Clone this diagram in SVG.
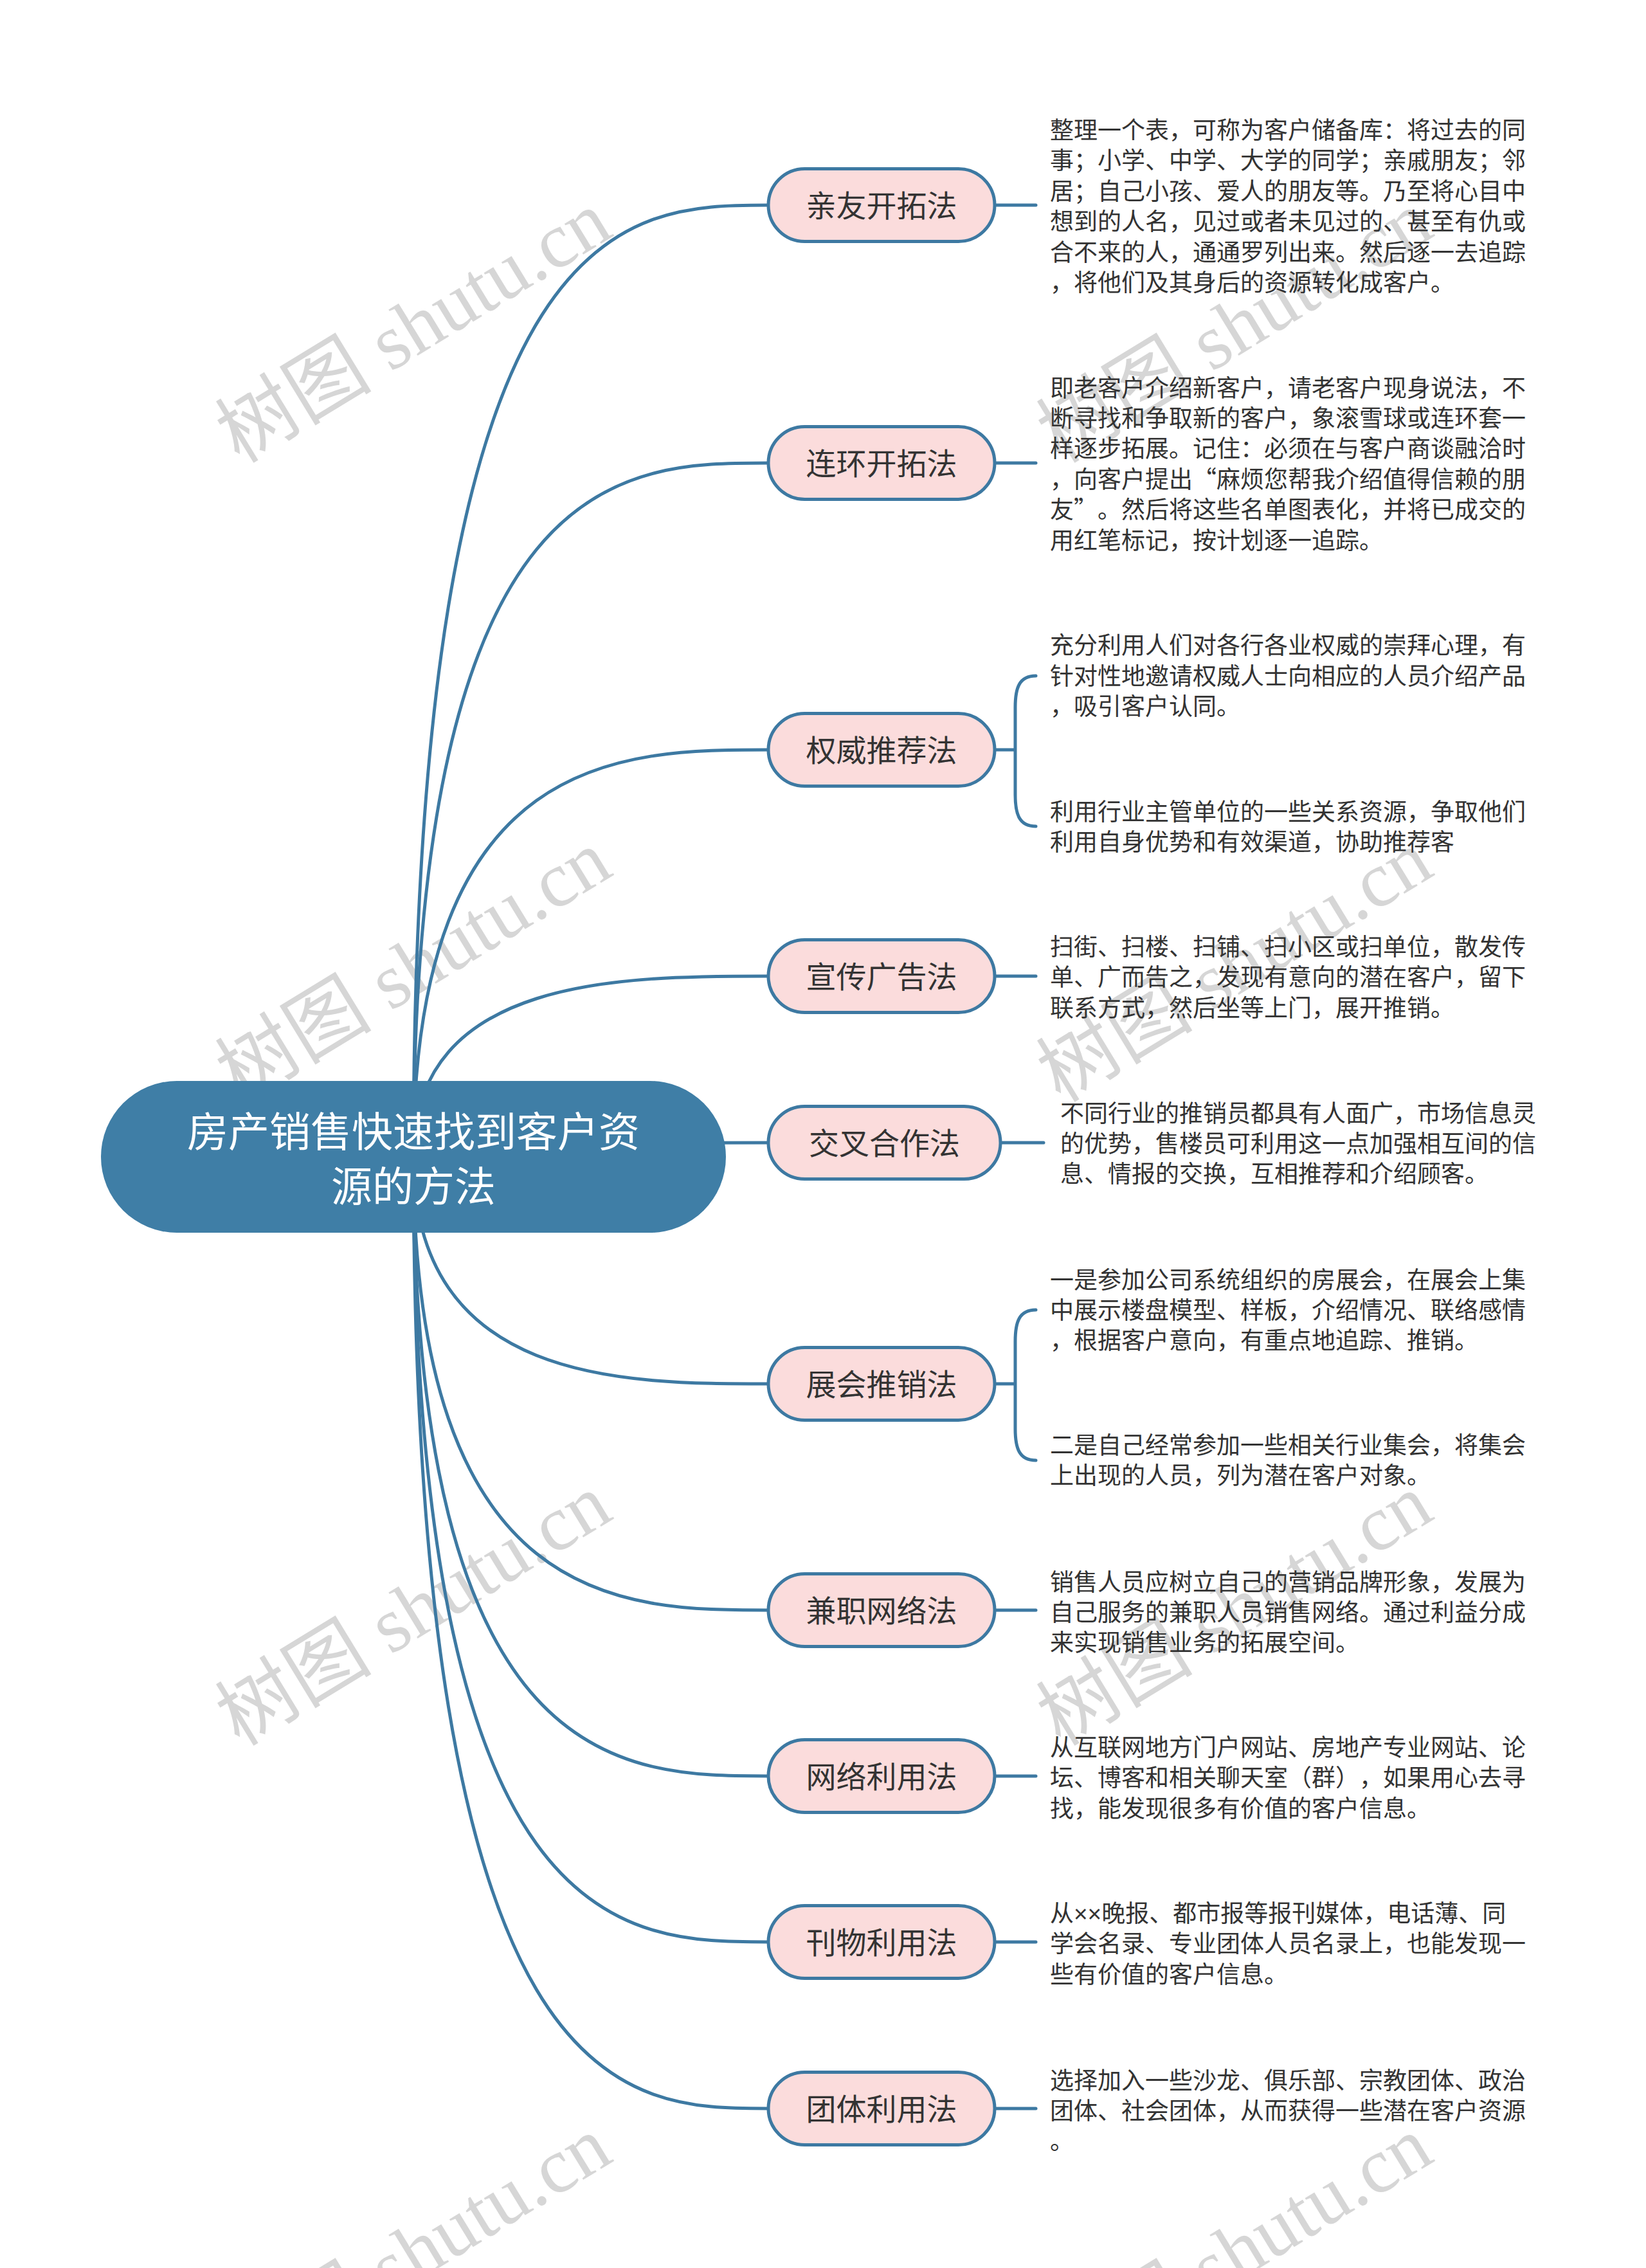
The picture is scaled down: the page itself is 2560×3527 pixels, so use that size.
<svg xmlns="http://www.w3.org/2000/svg" width="2560" height="3527" viewBox="0 0 2560 3527">
<style>
.wm{font-family:"Liberation Serif","Noto Sans CJK SC",serif;font-size:122px;fill:#d6d6d6;text-anchor:middle}
.conn{fill:none;stroke:#3d79a2;stroke-width:5;stroke-linecap:round}
.nbox{fill:#fbdcdc;stroke:#3d79a2;stroke-width:5}
.ntext{font-family:"Noto Sans CJK SC",sans-serif;font-size:47px;fill:#333333;text-anchor:middle}
.desc{font-family:"Noto Sans CJK SC",sans-serif;font-size:37px;fill:#333333;text-spacing-trim:space-all}
.root{fill:#3f7ea6}
.rtext{font-family:"Noto Sans CJK SC",sans-serif;font-size:64px;fill:#ffffff;text-anchor:middle}
.lat{font-family:"Liberation Sans",sans-serif}
</style>
<rect width="2560" height="3527" fill="#ffffff"/>
<g id="watermarks">
<text class="wm" x="646" y="549" transform="rotate(-31.4 646 513)">树图 shutu.cn</text>
<text class="wm" x="1923" y="549" transform="rotate(-31.4 1923 513)">树图 shutu.cn</text>
<text class="wm" x="646" y="1543" transform="rotate(-31.4 646 1507)">树图 shutu.cn</text>
<text class="wm" x="1923" y="1543" transform="rotate(-31.4 1923 1507)">树图 shutu.cn</text>
<text class="wm" x="646" y="2544" transform="rotate(-31.4 646 2508)">树图 shutu.cn</text>
<text class="wm" x="1923" y="2544" transform="rotate(-31.4 1923 2508)">树图 shutu.cn</text>
<text class="wm" x="646" y="3543" transform="rotate(-31.4 646 3507)">树图 shutu.cn</text>
<text class="wm" x="1923" y="3543" transform="rotate(-31.4 1923 3507)">树图 shutu.cn</text>
</g>
<g id="connectors">
<path class="conn" d="M643,1798 C643,319 969,319 1195,319"/>
<path class="conn" d="M643,1798 C643,720 969,720 1195,720"/>
<path class="conn" d="M643,1798 C643,1166 969,1166 1195,1166"/>
<path class="conn" d="M643,1798 C643,1518 969,1518 1195,1518"/>
<path class="conn" d="M643,1798 C643,1777 969,1777 1195,1777"/>
<path class="conn" d="M643,1798 C643,2152 969,2152 1195,2152"/>
<path class="conn" d="M643,1798 C643,2504 969,2504 1195,2504"/>
<path class="conn" d="M643,1798 C643,2762 969,2762 1195,2762"/>
<path class="conn" d="M643,1798 C643,3020 969,3020 1195,3020"/>
<path class="conn" d="M643,1798 C643,3279 969,3279 1195,3279"/>
<path class="conn" d="M1547,319 H1611"/>
<path class="conn" d="M1547,720 H1611"/>
<path class="conn" d="M1547,1166 H1579 M1611,1051 C1585,1051 1579,1070 1579,1100 V1236 C1579,1266 1585,1285 1611,1285"/>
<path class="conn" d="M1547,1518 H1611"/>
<path class="conn" d="M1556,1777 H1623"/>
<path class="conn" d="M1547,2152 H1579 M1611,2037 C1585,2037 1579,2056 1579,2086 V2222 C1579,2252 1585,2271 1611,2271"/>
<path class="conn" d="M1547,2504 H1611"/>
<path class="conn" d="M1547,2762 H1611"/>
<path class="conn" d="M1547,3020 H1611"/>
<path class="conn" d="M1547,3279 H1611"/>
</g>
<g id="root">
<rect class="root" x="157" y="1681" width="972" height="236" rx="118" ry="118"/>
<text class="rtext" x="643" y="1783">房产销售快速找到客户资</text>
<text class="rtext" x="643" y="1868">源的方法</text>
</g>
<g id="n1"><rect class="nbox" x="1195" y="262.5" width="352" height="113" rx="56.5"/><text class="ntext" x="1371" y="336.5">亲友开拓法</text></g>
<g id="n2"><rect class="nbox" x="1195" y="663.5" width="352" height="113" rx="56.5"/><text class="ntext" x="1371" y="737.5">连环开拓法</text></g>
<g id="n3"><rect class="nbox" x="1195" y="1109.5" width="352" height="113" rx="56.5"/><text class="ntext" x="1371" y="1183.5">权威推荐法</text></g>
<g id="n4"><rect class="nbox" x="1195" y="1461.5" width="352" height="113" rx="56.5"/><text class="ntext" x="1371" y="1535.5">宣传广告法</text></g>
<g id="n5"><rect class="nbox" x="1195" y="1720.5" width="361" height="113" rx="56.5"/><text class="ntext" x="1375.5" y="1794.5">交叉合作法</text></g>
<g id="n6"><rect class="nbox" x="1195" y="2095.5" width="352" height="113" rx="56.5"/><text class="ntext" x="1371" y="2169.5">展会推销法</text></g>
<g id="n7"><rect class="nbox" x="1195" y="2447.5" width="352" height="113" rx="56.5"/><text class="ntext" x="1371" y="2521.5">兼职网络法</text></g>
<g id="n8"><rect class="nbox" x="1195" y="2705.5" width="352" height="113" rx="56.5"/><text class="ntext" x="1371" y="2779.5">网络利用法</text></g>
<g id="n9"><rect class="nbox" x="1195" y="2963.5" width="352" height="113" rx="56.5"/><text class="ntext" x="1371" y="3037.5">刊物利用法</text></g>
<g id="n10"><rect class="nbox" x="1195" y="3222.5" width="352" height="113" rx="56.5"/><text class="ntext" x="1371" y="3296.5">团体利用法</text></g>
<g id="d1" class="desc">
<text x="1633" y="216">整理一个表，可称为客户储备库：将过去的同</text>
<text x="1633" y="263">事；小学、中学、大学的同学；亲戚朋友；邻</text>
<text x="1633" y="311">居；自己小孩、爱人的朋友等。乃至将心目中</text>
<text x="1633" y="358">想到的人名，见过或者未见过的、甚至有仇或</text>
<text x="1633" y="406">合不来的人，通通罗列出来。然后逐一去追踪</text>
<text x="1633" y="453">，将他们及其身后的资源转化成客户。</text>
</g>
<g id="d2" class="desc">
<text x="1633" y="617">即老客户介绍新客户，请老客户现身说法，不</text>
<text x="1633" y="664">断寻找和争取新的客户，象滚雪球或连环套一</text>
<text x="1633" y="711">样逐步拓展。记住：必须在与客户商谈融洽时</text>
<text x="1633" y="759">，向客户提出“麻烦您帮我介绍值得信赖的朋</text>
<text x="1633" y="806">友”。然后将这些名单图表化，并将已成交的</text>
<text x="1633" y="854">用红笔标记，按计划逐一追踪。</text>
</g>
<g id="d3a" class="desc">
<text x="1633" y="1017">充分利用人们对各行各业权威的崇拜心理，有</text>
<text x="1633" y="1065">针对性地邀请权威人士向相应的人员介绍产品</text>
<text x="1633" y="1112">，吸引客户认同。</text>
</g>
<g id="d3b" class="desc">
<text x="1633" y="1276">利用行业主管单位的一些关系资源，争取他们</text>
<text x="1633" y="1323">利用自身优势和有效渠道，协助推荐客</text>
</g>
<g id="d4" class="desc">
<text x="1633" y="1486">扫街、扫楼、扫铺、扫小区或扫单位，散发传</text>
<text x="1633" y="1533">单、广而告之，发现有意向的潜在客户，留下</text>
<text x="1633" y="1581">联系方式，然后坐等上门，展开推销。</text>
</g>
<g id="d5" class="desc">
<text x="1649" y="1745">不同行业的推销员都具有人面广，市场信息灵</text>
<text x="1649" y="1792">的优势，售楼员可利用这一点加强相互间的信</text>
<text x="1649" y="1839">息、情报的交换，互相推荐和介绍顾客。</text>
</g>
<g id="d6a" class="desc">
<text x="1633" y="2004">一是参加公司系统组织的房展会，在展会上集</text>
<text x="1633" y="2051">中展示楼盘模型、样板，介绍情况、联络感情</text>
<text x="1633" y="2098">，根据客户意向，有重点地追踪、推销。</text>
</g>
<g id="d6b" class="desc">
<text x="1633" y="2261">二是自己经常参加一些相关行业集会，将集会</text>
<text x="1633" y="2308">上出现的人员，列为潜在客户对象。</text>
</g>
<g id="d7" class="desc">
<text x="1633" y="2474">销售人员应树立自己的营销品牌形象，发展为</text>
<text x="1633" y="2521">自己服务的兼职人员销售网络。通过利益分成</text>
<text x="1633" y="2568">来实现销售业务的拓展空间。</text>
</g>
<g id="d8" class="desc">
<text x="1633" y="2731">从互联网地方门户网站、房地产专业网站、论</text>
<text x="1633" y="2778">坛、博客和相关聊天室（群），如果用心去寻</text>
<text x="1633" y="2826">找，能发现很多有价值的客户信息。</text>
</g>
<g id="d9" class="desc">
<text x="1633" y="2989">从<tspan class="lat">××</tspan>晚报、都市报等报刊媒体，电话薄、同</text>
<text x="1633" y="3036">学会名录、专业团体人员名录上，也能发现一</text>
<text x="1633" y="3084">些有价值的客户信息。</text>
</g>
<g id="d10" class="desc">
<text x="1633" y="3249">选择加入一些沙龙、俱乐部、宗教团体、政治</text>
<text x="1633" y="3296">团体、社会团体，从而获得一些潜在客户资源</text>
<text x="1633" y="3343">。</text>
</g>
</svg>
